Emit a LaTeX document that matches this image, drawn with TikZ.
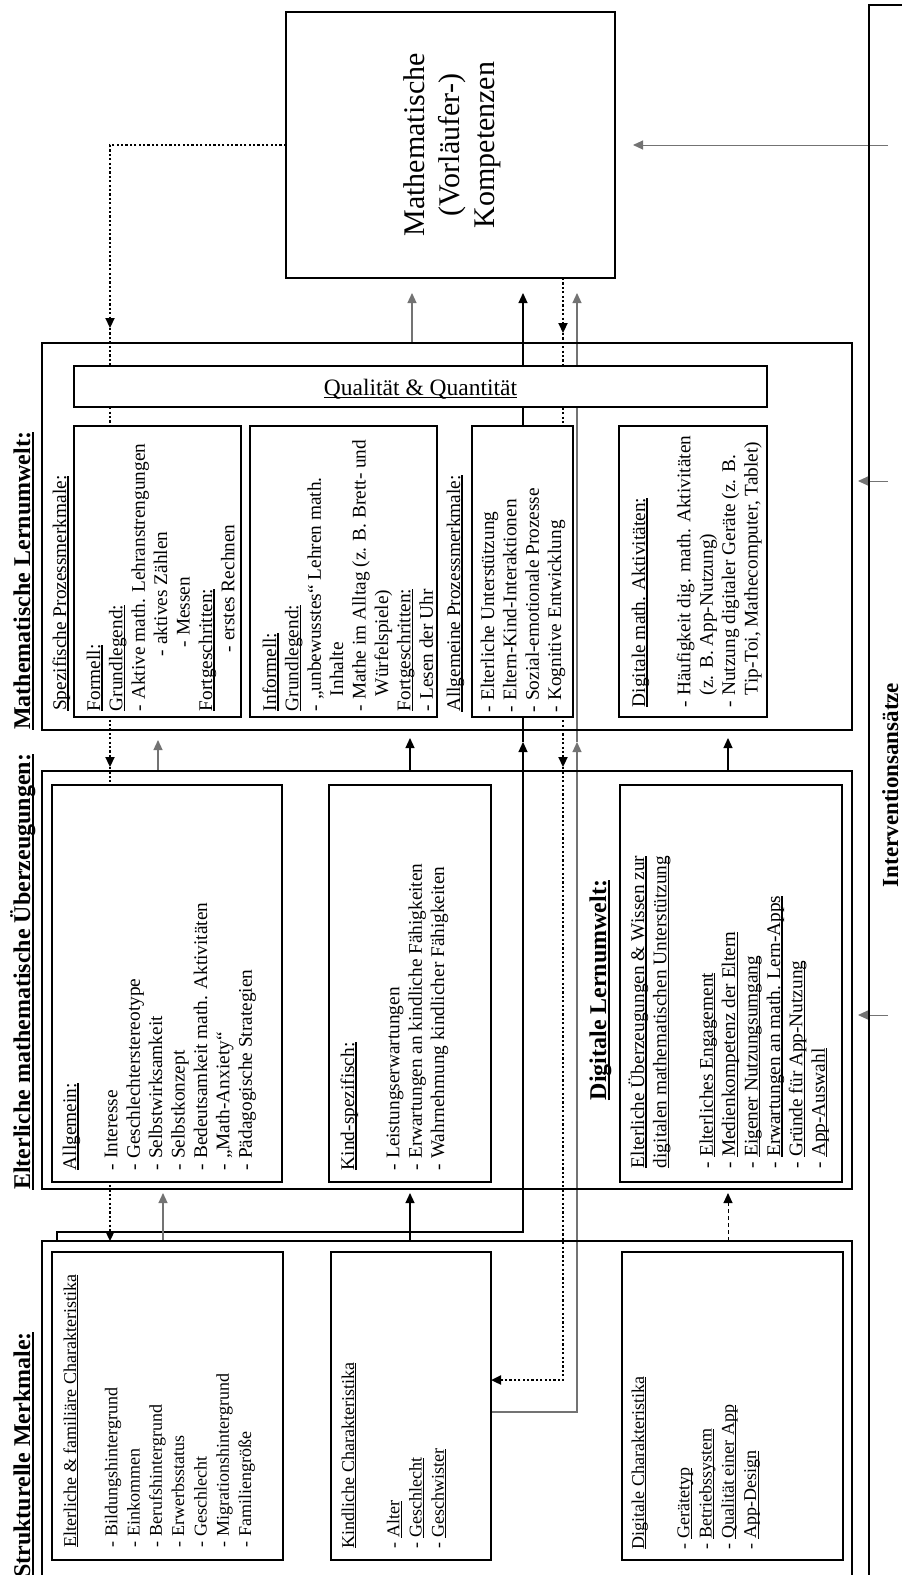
\documentclass[tikz,border=0pt]{standalone}
\usepackage{fontspec}
\setmainfont{Liberation Serif}
\usetikzlibrary{arrows.meta,fit,backgrounds}
% text sizes
\newcommand\bodyA{\fontsize{19.3}{22.4}\selectfont}
\newcommand\bodyC{\fontsize{18}{22.3}\selectfont}
\newcommand\headfont{\fontsize{24}{28}\selectfont\bfseries}
% underlines that sit just below the baseline
\newcommand\ulx[1]{\setbox0=\hbox{#1}\rlap{\rule[-0.13em]{\wd0}{0.055em}}\box0}
\newcommand\ulh[1]{\setbox0=\hbox{#1}\rlap{\rule[-0.16em]{\wd0}{0.08em}}\box0}
\newcommand\fstrut{\rule{0pt}{17pt}}
\begin{document}
\begin{tikzpicture}[x=1pt,y=-1pt,
  outerbox/.style={draw, line width=2.4pt, inner sep=0pt, outer sep=0pt},
  innerbox/.style={draw, line width=1.4pt, fill=white, inner sep=0pt, outer sep=0pt},
  tipp/.style={-{Triangle[length=10pt,width=9pt]}},
  blk/.style={line width=1.2pt, black},
  gry/.style={line width=1.2pt, black!55},
  dots/.style={line width=2.2pt, dash pattern=on 2.2pt off 2.2pt, black},
  dsh/.style={line width=1pt, dash pattern=on 4pt off 3pt, black},
  boxtext/.style={rotate=90, anchor=north west, align=left, inner sep=0pt, outer sep=0pt},
  heading/.style={rotate=90, anchor=base west, inner sep=0pt, font=\headfont},
  label/.style={rotate=90, anchor=base west, inner sep=0pt, font=\bodyA}]
\useasboundingbox (0,0) rectangle (902,1575);

% ---------- outer frames ----------
\node[draw, line width=2pt, inner sep=0pt, outer sep=0pt, fit={(286,12) (615,278)}] (Komp) {};
\node[outerbox, fit={(869,5) (930,1600)}] (Intv) {};
\node[outerbox, fit={(42,343) (852,730)}] (A) {};
\node[outerbox, fit={(42,771) (852,1189)}] (B) {};
\node[outerbox, fit={(42,1241) (852,1580)}] (C) {};

% ---------- inner boxes ----------
\node[innerbox, fit={(74,366) (767,407)}] (Qual) {};
\node[innerbox, fit={(74,426) (241,717)}] (A1) {};
\node[innerbox, fit={(250,426) (437,717)}] (A2) {};
\node[innerbox, fit={(472,426) (573,717)}] (A3) {};
\node[innerbox, fit={(619,426) (767,717)}] (A4) {};
\node[innerbox, fit={(52,785) (282,1182)}] (B1) {};
\node[innerbox, fit={(329,785) (491,1182)}] (B2) {};
\node[innerbox, fit={(620,785) (842,1182)}] (B3) {};
\node[innerbox, fit={(52,1252) (283,1560)}] (C1) {};
\node[innerbox, fit={(331,1252) (491,1560)}] (C2) {};
\node[innerbox, fit={(622,1252) (843,1560)}] (C3) {};

% ---------- column helpers ----------
\coordinate (x110) at (110,0);
\coordinate (x158) at (158,0);
\coordinate (x163) at (163,0);
\coordinate (x410) at (410,0);
\coordinate (x412) at (412,0);
\coordinate (x728) at (728,0);

% ---------- connectors (beneath the filled inner boxes) ----------
\begin{scope}[on background layer]
% dotted feedback from the competences, left branch
\coordinate (d1) at (110,328);
\coordinate (d2) at (110,767);
\draw[dots,tipp] (Komp.west) -| (d1);
\draw[dots,tipp] (d1) -- (d2);
\draw[dots,tipp] (d2) -- (x110 |- C.north);
% dotted feedback, right branch down to the child characteristics
\coordinate (e1) at (563,333);
\coordinate (e2) at (563,767);
\coordinate (e3) at (563,1380);
\draw[dots,tipp] (Komp.south -| e1) -- (e1);
\draw[dots,tipp] (e1) -- (e2);
\draw[dots,tipp] (e2) -- (e3) -- (e3 -| C2.east);

% structural features to general process features
\coordinate (f0) at (57,1232);
\coordinate (g1) at (523,742);
\draw[blk,tipp] (C.north -| f0) -- (f0) -| (g1);
\draw[blk] (g1) -- (A3.south -| g1);
\draw[blk] (A3.north -| g1) -- (Qual.south -| g1);
\draw[blk,tipp,shorten >=15pt] (Qual.north -| g1) -- (Komp.south -| g1);

% child characteristics upwards (grey)
\coordinate (h0) at (577,1412);
\coordinate (h1) at (577,742);
\draw[gry,tipp] (h0 -| C2.east) -- (h0) -- (h1);
\draw[gry] (h1) -- (Qual.south -| h1);
\draw[gry,tipp,shorten >=15pt] (Qual.north -| h1) -- (Komp.south -| h1);

% learning environment to competences
\draw[gry,tipp,shorten >=15pt] (A.north -| x412) -- (Komp.south -| x412);

% beliefs to learning environment
\draw[gry,tipp,shorten >=10pt] (B.north -| x158) -- (A.south -| x158);
\draw[blk,tipp,shorten >=8pt] (B.north -| x410) -- (A.south -| x410);
\draw[blk,tipp,shorten >=8pt] (B.north -| x728) -- (A.south -| x728);

% structural features to beliefs
\draw[gry,tipp,shorten >=4pt] (C.north -| x163) -- (B.south -| x163);
\draw[blk,tipp,shorten >=4pt] (C.north -| x410) -- (B.south -| x410);
\draw[dsh,tipp,shorten >=4pt] (C.north -| x728) -- (B.south -| x728);

% intervention approaches
\coordinate (iK) at (888,145);
\coordinate (iA) at (888,481);
\coordinate (iB) at (888,1015);
\draw[gry,line width=1pt,tipp,shorten >=18pt] (iK) -- (iK -| Komp.east);
\draw[gry,line width=1pt,tipp,shorten >=6pt] (iA) -- (iA -| A.east);
\draw[gry,line width=1pt,tipp,shorten >=6pt] (iB) -- (iB -| B.east);
\end{scope}

% ---------- texts ----------
\node[rotate=90, align=center, inner sep=0pt, font=\fontsize{30}{35}\selectfont] (KompT) at (452,145)
  {Mathematische\\(Vorläufer-)\\Kompetenzen};
\node[anchor=base, inner sep=0pt, font=\fontsize{23.5}{28}\selectfont] (QualT) at (420.5,395)
  {\ulx{Qualität \& Quantität}};
\node[rotate=90, anchor=base, inner sep=0pt, font=\fontsize{23}{27}\selectfont\bfseries] (IntvT) at (898,785)
  {Interventionsansätze};

\node[heading] (hA) at (30,730) {\ulh{Mathematische Lernumwelt:}};
\node[heading] (hB) at (30,1190) {\ulh{Elterliche mathematische Überzeugungen:}};
\node[heading] (hC) at (30,1578) {\ulh{Strukturelle Merkmale:}};
\node[rotate=90, anchor=base, inner sep=0pt, font=\headfont] (hD) at (606,990) {\ulh{Digitale Lernumwelt:}};

\node[label] (lSpez) at (66,711) {\ulx{Spezifische Prozessmerkmale:}};
\node[label] (lAllg) at (460,712) {\ulx{Allgemeine Prozessmerkmale:}};

\node[boxtext, font=\bodyA] (A1t) at (83,711) {\fstrut\ulx{Formell:}\\
  \ulx{Grundlegend:}\\
  - Aktive math. Lehranstrengungen\\
  \hspace*{55pt}- aktives Zählen\\
  \hspace*{64pt}- Messen\\
  \ulx{Fortgeschritten:}\\
  \hspace*{59pt}- erstes Rechnen};

\node[boxtext, font=\bodyA] (A2t) at (259,711) {\fstrut\ulx{Informell:}\\
  \ulx{Grundlegend:}\\
  - „unbewusstes“ Lehren math.\\
  \hspace*{15pt}Inhalte\\
  - Mathe im Alltag (z. B. Brett- und\\
  \hspace*{15pt}Würfelspiele)\\
  \ulx{Fortgeschritten:}\\
  - Lesen der Uhr};

\node[boxtext, font=\bodyA] (A3t) at (477,712) {\fstrut- Elterliche Unterstützung\\
  - Eltern-Kind-Interaktionen\\
  - Sozial-emotionale Prozesse\\
  - Kognitive Entwicklung};

\node[boxtext, font=\bodyA] (A4t) at (628,707) {\fstrut\ulx{Digitale math. Aktivitäten:}\\[23pt]
  - Häufigkeit dig. math. Aktivitäten\\
  \hspace*{12pt}(z. B. App-Nutzung)\\
  - Nutzung digitaler Geräte (z. B.\\
  \hspace*{12pt}Tip-Toi, Mathecomputer, Tablet)};

\node[boxtext, font=\bodyA] (B1t) at (59,1170) {\fstrut\ulx{Allgemein:}\\[19pt]
  - Interesse\\
  - Geschlechterstereotype\\
  - Selbstwirksamkeit\\
  - Selbstkonzept\\
  - Bedeutsamkeit math. Aktivitäten\\
  - „Math-Anxiety“\\
  - Pädagogische Strategien};

\node[boxtext, font=\bodyA] (B2t) at (337,1170) {\fstrut\ulx{Kind-spezifisch:}\\[23pt]
  - Leistungserwartungen\\
  - Erwartungen an kindliche Fähigkeiten\\
  - Wahrnehmung kindlicher Fähigkeiten};

\node[boxtext, font=\bodyA] (B3t) at (627,1168) {\fstrut\ulx{Elterliche Überzeugungen \& Wissen zur}\\
  \ulx{digitalen mathematischen Unterstützung}\\[24pt]
  - \ulx{Elterliches Engagement}\\
  - \ulx{Medienkompetenz der Eltern}\\
  - \ulx{Eigener Nutzungsumgang}\\
  - \ulx{Erwartungen an math. Lern-Apps}\\
  - \ulx{Gründe für App-Nutzung}\\
  - \ulx{App-Auswahl}};

\node[boxtext, font=\bodyC] (C1t) at (59,1547) {\fstrut\ulx{Elterliche \& familiäre Charakteristika}\\[19pt]
  - Bildungshintergrund\\
  - Einkommen\\
  - Berufshintergrund\\
  - Erwerbsstatus\\
  - Geschlecht\\
  - Migrationshintergrund\\
  - Familiengröße};

\node[boxtext, font=\bodyC] (C2t) at (337,1548) {\fstrut\ulx{Kindliche Charakteristika}\\[23pt]
  - \ulx{Alter}\\
  - \ulx{Geschlecht}\\
  - \ulx{Geschwister}};

\node[boxtext, font=\bodyC] (C3t) at (627,1549) {\fstrut\ulx{Digitale Charakteristika}\\[23pt]
  - \ulx{Gerätetyp}\\
  - \ulx{Betriebssystem}\\
  - \ulx{Qualität einer App}\\
  - \ulx{App-Design}};
\end{tikzpicture}
\end{document}
